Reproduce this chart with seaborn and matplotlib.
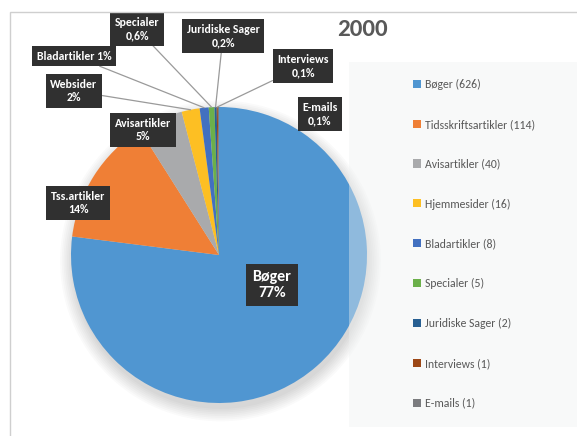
import matplotlib
matplotlib.use("Agg")
import matplotlib.pyplot as plt
import seaborn as sns
import numpy as np
from matplotlib.patches import Patch, Rectangle, Circle

# Data
categories = ["Bøger", "Tidsskriftsartikler", "Avisartikler", "Hjemmesider", "Bladartikler",
              "Specialer", "Juridiske Sager", "Interviews", "E-mails"]
counts = [626, 114, 40, 16, 8, 5, 2, 1, 1]
short_names = ["Bøger", "Tss.artikler", "Avisartikler", "Websider", "Bladartikler",
               "Specialer", "Juridiske Sager", "Interviews", "E-mails"]
title = "2000"

colors = ["#5096d1", "#ef7f36", "#a9aaac", "#fdbf23", "#4270c0",
          "#6bb04a", "#275f92", "#9c4716", "#7b7c7f"]

# label box centres (pixels) and whether a leader line is drawn
label_pos = [(272, 285), (78, 203), (143, 130), (74, 91), (74, 56),
             (137, 29), (223, 36), (303, 66), (320, 114)]
leader = [False, False, False, True, True, True, True, True, False]

sns.set_theme(style="white")
plt.rcParams["font.family"] = ["Carlito", "DejaVu Sans"]

W, H = 577, 436
cx, cy, R = 219, 255, 148

fig = plt.figure(figsize=(W / 100, H / 100), dpi=100)
ax = fig.add_axes([0, 0, 1, 1])


def px(x, y):
    return ((x - cx) / R, (cy - y) / R)


# soft shadow
for i in range(8):
    ax.add_patch(Circle((0.01, -0.04), 1.0 + i * 0.012, color="black",
                        alpha=0.02, lw=0, zorder=0))

wedges, _ = ax.pie(counts, colors=colors, startangle=90, counterclock=False,
                   radius=1.0, wedgeprops=dict(linewidth=0))
for w in wedges:
    w.set_zorder(2)

ax.set_xlim(-cx / R, (W - cx) / R)
ax.set_ylim(-(H - cy) / R, cy / R)
ax.set_aspect("equal", adjustable="datalim")
ax.axis("off")

total = sum(counts)
fracs = np.array(counts) / total
starts = np.concatenate([[0], np.cumsum(fracs)[:-1]])


def pct(f):
    p = f * 100
    if p < 0.95:
        return f"{p:.1f}".replace(".", ",") + "%"
    return f"{p:.0f}%"


for i, name in enumerate(short_names):
    sep = " " if name == "Bladartikler" else "\n"
    txt = name + sep + pct(fracs[i])
    size = 11.5 if i == 0 else 8.5
    ang = np.deg2rad(90 - 360 * (starts[i] + fracs[i] / 2))
    edge = (np.cos(ang), np.sin(ang))
    ax.annotate(txt, xy=edge, xytext=px(*label_pos[i]), ha="center", va="center",
                color="white", fontsize=size, fontweight="bold", linespacing=1.2,
                zorder=6,
                bbox=dict(boxstyle="square,pad=0.4", fc="#303030", ec="none"),
                arrowprops=dict(arrowstyle="-", color="#9a9a9a", lw=0.9,
                                shrinkA=0, shrinkB=0) if leader[i] else None)

# legend background panel (semi transparent over the pie)
fig.patches.append(Rectangle((349 / W, 1 - 427 / H), (W - 349) / W + 0.02, (427 - 62) / H,
                             transform=fig.transFigure, fc="#eef1f1", ec="none",
                             alpha=0.4, zorder=5))

handles = [Patch(facecolor=c, edgecolor="none") for c in colors]
labels = [f"{c} ({n})" for c, n in zip(categories, counts)]
leg = fig.legend(handles, labels, loc="upper left", bbox_to_anchor=(413 / W, 1 - 79 / H),
                 frameon=False, fontsize=8.5, labelspacing=2.44, handlelength=0.68,
                 handleheight=0.68, handletextpad=0.3, borderpad=0, borderaxespad=0,
                 labelcolor="#595959")

fig.text(362 / W, 1 - 30 / H, title, ha="center", va="center", fontsize=18,
         fontweight="bold", color="#595959")

# outer chart border
fig.patches.append(Rectangle((10 / W, -0.1), 1.1, 1.1 - 12 / H, transform=fig.transFigure,
                             fc="none", ec="#cfcfcf", lw=1.0, zorder=0))

fig.savefig("out.png", dpi=100)
